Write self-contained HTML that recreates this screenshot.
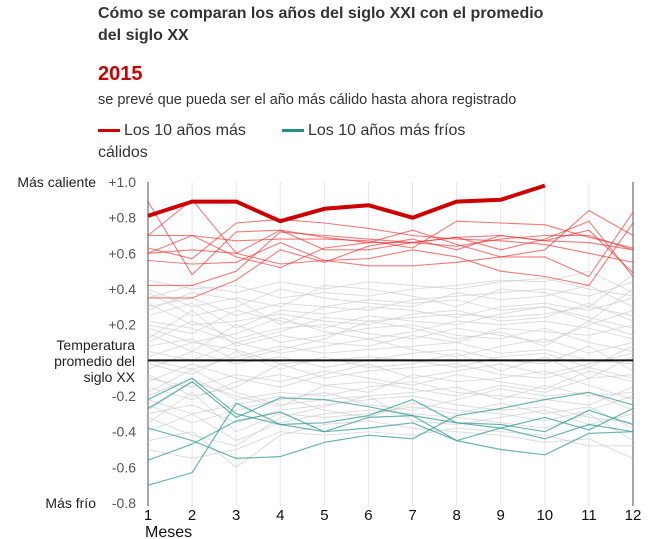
<!DOCTYPE html>
<html><head><meta charset="utf-8"><style>
body{margin:0;background:#fff;font-family:"Liberation Sans",Arial,sans-serif;}
#wrap{position:relative;width:652px;height:539px;overflow:hidden;}
.t{position:absolute;white-space:nowrap;}
</style></head><body>
<div id="wrap">
<div class="t" style="left:98px;top:3px;font-size:16px;font-weight:bold;color:#333;line-height:22px;">Cómo se comparan los años del siglo XXI con el promedio<br>del siglo XX</div>
<div class="t" style="left:98px;top:63px;font-size:20px;font-weight:bold;color:#c00;">2015</div>
<div class="t" style="left:98px;top:92px;font-size:14.5px;color:#333;">se prevé que pueda ser el año más cálido hasta ahora registrado</div>
<div class="t" style="left:98px;top:120px;font-size:16px;color:#333;line-height:22px;"><span style="display:inline-block;width:22px;height:3px;background:#c00;vertical-align:middle;margin-right:4px;"></span>Los 10 años más<br>cálidos</div>
<div class="t" style="left:282px;top:120px;font-size:16px;color:#333;line-height:22px;"><span style="display:inline-block;width:22px;height:3px;background:#2a8c86;vertical-align:middle;margin-right:4px;"></span>Los 10 años más fríos</div>
<svg id="chart" width="652" height="539" style="position:absolute;left:0;top:0"></svg>
</div>
<script>
const months=[1,2,3,4,5,6,7,8,9,10,11,12];
const yTicks=[1.0,0.8,0.6,0.4,0.2,-0.2,-0.4,-0.6,-0.8];
const yTickLabels=["+1.0","+0.8","+0.6","+0.4","+0.2","-0.2","-0.4","-0.6","-0.8"];
const year2015=[0.81,0.89,0.89,0.78,0.85,0.87,0.80,0.89,0.90,0.98];
const warm1=[0.89,0.48,0.72,0.73,0.69,0.66,0.66,0.64,0.68,0.70,0.70,0.62];
const warm2=[0.70,0.90,0.60,0.73,0.62,0.62,0.66,0.69,0.62,0.68,0.78,0.47];
const warm3=[0.63,0.57,0.77,0.79,0.77,0.74,0.70,0.68,0.67,0.65,0.60,0.55];
const warm4=[0.60,0.70,0.58,0.52,0.63,0.66,0.73,0.65,0.58,0.62,0.84,0.70];
const warm5=[0.42,0.42,0.50,0.72,0.70,0.68,0.66,0.69,0.70,0.67,0.66,0.62];
const warm6=[0.56,0.54,0.55,0.66,0.56,0.53,0.53,0.55,0.58,0.58,0.47,0.83];
const warm7=[0.70,0.70,0.67,0.68,0.68,0.67,0.63,0.78,0.77,0.76,0.69,0.63];
const warm8=[0.60,0.62,0.60,0.54,0.56,0.57,0.62,0.58,0.50,0.47,0.42,0.77];
const warm9=[0.35,0.35,0.45,0.62,0.55,0.64,0.68,0.62,0.70,0.67,0.73,0.49];
const cold1=[-0.22,-0.10,-0.30,-0.36,-0.40,-0.32,-0.31,-0.45,-0.38,-0.44,-0.36,-0.40];
const cold2=[-0.27,-0.12,-0.32,-0.21,-0.22,-0.26,-0.31,-0.35,-0.36,-0.40,-0.28,-0.36];
const cold3=[-0.38,-0.45,-0.55,-0.54,-0.46,-0.42,-0.44,-0.31,-0.27,-0.22,-0.18,-0.25];
const cold4=[-0.56,-0.47,-0.34,-0.29,-0.40,-0.38,-0.35,-0.45,-0.50,-0.53,-0.41,-0.40];
const cold5=[-0.70,-0.63,-0.24,-0.36,-0.35,-0.31,-0.22,-0.35,-0.38,-0.32,-0.39,-0.27];
const gray1=[0.45,0.40,0.42,0.35,0.38,0.36,0.40,0.42,0.45,0.44,0.50,0.38];
const gray2=[0.30,0.35,0.25,0.32,0.30,0.28,0.34,0.36,0.38,0.40,0.36,0.44];
const gray3=[0.20,0.15,0.28,0.22,0.18,0.25,0.22,0.20,0.26,0.30,0.24,0.18];
const gray4=[0.10,0.22,0.12,0.18,0.20,0.15,0.12,0.18,0.14,0.10,0.20,0.28];
const gray5=[0.05,0.00,0.10,0.04,0.08,0.12,0.06,0.02,0.08,0.12,0.04,0.10];
const gray6=[-0.05,0.05,-0.02,0.02,-0.04,0.00,0.04,0.06,0.00,-0.02,0.08,-0.06];
const gray7=[-0.10,-0.15,-0.08,-0.12,-0.06,-0.10,-0.14,-0.08,-0.12,-0.16,-0.06,-0.12];
const gray8=[-0.20,-0.10,-0.22,-0.18,-0.20,-0.15,-0.12,-0.18,-0.20,-0.22,-0.25,-0.15];
const gray9=[-0.30,-0.25,-0.35,-0.28,-0.25,-0.22,-0.20,-0.25,-0.28,-0.26,-0.32,-0.35];
const gray10=[-0.40,-0.30,-0.45,-0.35,-0.30,-0.28,-0.30,-0.32,-0.35,-0.38,-0.30,-0.45];
const gray11=[0.38,0.25,0.30,0.40,0.35,0.32,0.30,0.38,0.34,0.36,0.42,0.30];
const gray12=[0.25,0.32,0.18,0.28,0.26,0.30,0.28,0.24,0.30,0.32,0.28,0.35];
const gray13=[0.15,0.05,0.20,0.10,0.14,0.18,0.20,0.14,0.12,0.18,0.10,0.05];
const gray14=[-0.02,-0.08,0.05,-0.05,0.02,-0.04,-0.02,0.04,-0.06,0.02,-0.10,0.02];
const gray15=[-0.15,-0.22,-0.12,-0.08,-0.14,-0.18,-0.08,-0.12,-0.10,-0.06,-0.14,-0.22];
const gray16=[-0.25,-0.35,-0.28,-0.22,-0.18,-0.25,-0.28,-0.22,-0.16,-0.20,-0.18,-0.28];
const gray17=[-0.45,-0.40,-0.60,-0.42,-0.36,-0.34,-0.38,-0.40,-0.42,-0.46,-0.44,-0.55];
const gray18=[0.40,0.30,0.35,0.30,0.42,0.40,0.36,0.30,0.40,0.38,0.30,0.48];
const gray19=[0.32,0.20,0.22,0.26,0.22,0.20,0.26,0.28,0.22,0.24,0.32,0.22];
const gray20=[0.12,0.28,0.08,0.14,0.10,0.08,0.14,0.10,0.18,0.16,0.14,0.20];
const gray21=[0.00,-0.05,0.02,0.08,0.04,0.06,0.08,0.10,0.04,0.06,0.00,-0.02];
const gray22=[-0.08,-0.20,-0.15,-0.02,-0.10,-0.06,-0.04,-0.02,-0.08,-0.10,-0.04,-0.10];
const gray23=[-0.18,-0.05,-0.18,-0.25,-0.22,-0.20,-0.18,-0.15,-0.22,-0.14,-0.20,-0.18];
const gray24=[-0.35,-0.18,-0.40,-0.30,-0.32,-0.30,-0.26,-0.30,-0.24,-0.30,-0.26,-0.38];
const gray25=[-0.50,-0.55,-0.50,-0.40,-0.42,-0.40,-0.42,-0.38,-0.40,-0.42,-0.48,-0.48];
const gray26=[0.28,0.38,0.34,0.20,0.30,0.34,0.32,0.34,0.28,0.30,0.22,0.40];
const gray27=[0.18,0.10,0.15,0.24,0.16,0.12,0.16,0.22,0.20,0.22,0.18,0.12];
const gray28=[0.08,0.12,0.00,0.06,0.12,0.22,0.18,0.12,0.16,0.08,0.22,0.14];
const gray29=[-0.12,-0.02,-0.10,-0.15,-0.08,-0.02,-0.10,-0.06,-0.02,-0.08,-0.02,0.04];
const gray30=[-0.22,-0.30,-0.25,-0.20,-0.28,-0.32,-0.24,-0.28,-0.30,-0.34,-0.28,-0.20];
const gray31=[-0.32,-0.42,-0.48,-0.32,-0.26,-0.20,-0.34,-0.36,-0.32,-0.28,-0.36,-0.30];
const gray32=[0.35,0.42,0.38,0.44,0.40,0.44,0.42,0.40,0.44,0.46,0.40,0.36];
const gray33=[0.22,0.18,0.10,0.16,0.24,0.22,0.24,0.26,0.24,0.26,0.30,0.25];
const gray34=[-0.28,-0.12,-0.20,-0.26,-0.14,-0.12,-0.16,-0.20,-0.14,-0.18,-0.10,-0.08];
const gray35=[0.02,0.10,0.06,-0.02,0.00,0.02,0.00,-0.04,0.02,0.04,-0.04,0.08];
const grayLines=[gray1,gray2,gray3,gray4,gray5,gray6,gray7,gray8,gray9,gray10,gray11,gray12,gray13,gray14,gray15,gray16,gray17,gray18,gray19,gray20,gray21,gray22,gray23,gray24,gray25,gray26,gray27,gray28,gray29,gray30,gray31,gray32,gray33,gray34,gray35];
const warmLines=[warm1,warm2,warm3,warm4,warm5,warm6,warm7,warm8,warm9];
const coldLines=[cold1,cold2,cold3,cold4,cold5];

const NS="http://www.w3.org/2000/svg";
const svg=document.getElementById('chart');
const X0=148,X1=633,Y0=182,Y1=503,VMAX=1.0,VMIN=-0.8;
function xs(m){return X0+(m-1)*(X1-X0)/11;}
function ys(v){return Y0+(VMAX-v)*(Y1-Y0)/(VMAX-VMIN);}
function mk(t,a){const e=document.createElementNS(NS,t);for(const k in a)e.setAttribute(k,a[k]);svg.appendChild(e);return e;}
function txt(x,y,s,anchor,size,color){const e=mk('text',{x:x,y:y,'text-anchor':anchor,'font-size':size,fill:color,'font-family':'Liberation Sans, Arial, sans-serif'});e.textContent=s;return e;}
months.forEach(m=>{
  const edge=(m===1||m===12);
  const g=mk('line',{x1:xs(m),x2:xs(m),y1:Y0,y2:Y1+3,stroke:edge?'#888':'#e6e6e6','stroke-width':edge?1.5:1});
  
  
  const t=txt(xs(m),520,String(m),'middle',15,'#111');
  
  
});
const mes=txt(X0-3,537,'Meses','start',16,'#111');


yTicks.forEach((v,i)=>{
  const t=txt(136,ys(v)+5,yTickLabels[i],'end',14,'#555');
  
  
});
const lw=txt(96,187,'Más caliente','end',14,'#222');


const lc=txt(96,508,'Más frío','end',14,'#222');


[['Temperatura',350],['promedio del',366],['siglo XX',382]].forEach(a=>{
  const t=txt(135,a[1],a[0],'end',14,'#222');
  
  
});
function path(d,stroke,w,op,name){
  let s='';d.forEach((v,i)=>{s+=(i?'L':'M')+xs(months[i]).toFixed(1)+','+ys(v).toFixed(1);});
  const p=mk('path',{d:s,fill:'none',stroke:stroke,'stroke-width':w,'stroke-opacity':op,'stroke-linejoin':'round'});
  
  
}
grayLines.forEach(d=>path(d,'#cfcfcf',1,0.7,'gray-year-line'));
coldLines.forEach(d=>path(d,'#3a9c96',1.2,0.75,'cold-year-line'));
warmLines.forEach(d=>path(d,'#e33',1.1,0.65,'warm-year-line'));
const zl=mk('line',{x1:X0,x2:X1,y1:ys(0),y2:ys(0),stroke:'#111','stroke-width':2});


path(year2015,'#c00',4,1,'line-2015');
</script>
</body></html>
